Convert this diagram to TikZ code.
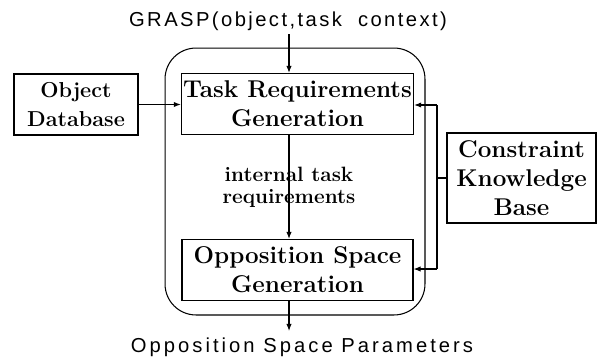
\documentclass[tikz,border=0pt]{standalone}
\usepackage{fontspec}
\newfontfamily\inlabelfont{Liberation Sans}[LetterSpace=12]
\newfontfamily\outlabelfont{Liberation Sans}[LetterSpace=15]
\usepackage{tikz}
\usetikzlibrary{positioning, calc, arrows.meta}
\tikzset{
  procbox/.style={rectangle, draw=black, semithick,
                  minimum width=4.62cm, minimum height=1.22cm,
                  align=center, inner sep=1pt,
                  font=\fontsize{13.8}{16.5}\selectfont\bfseries},
  srcbox/.style={rectangle, draw=black, semithick,
                 align=center, inner sep=1pt,
                 font=\fontsize{13.8}{16.5}\selectfont\bfseries},
  frame/.style={rectangle, draw=black, semithick, rounded corners=0.62cm,
                minimum width=5.2cm, minimum height=5.34cm},
  io/.style={inner sep=0pt},
  flow/.style={semithick, -{Latex[length=4pt,width=3pt]}},
}

\begin{document}
\begin{tikzpicture}[x=0.02cm, y=-0.02cm]
    \useasboundingbox (0,0) rectangle (598,356);

    % outer rounded frame
    \node[frame] (frame) at (295,181.5) {};

    % process boxes
    \node[procbox] (taskgen) at (297.5,104) {Task Requirements\\Generation};
    \node[procbox] (oppgen) at (297.5,270) {Opposition Space\\Generation};

    % knowledge sources
    \node[srcbox, minimum width=2.48cm, minimum height=1.22cm,
          font=\fontsize{12.3}{16}\selectfont\bfseries] (objdb) at (76,104.5) {Object\\Database};
    \node[srcbox, minimum width=2.98cm, minimum height=1.8cm] (ckb) at (521.5,178) {Constraint\\Knowledge\\Base};

    % inputs and outputs
    \node[io, font=\inlabelfont\fontsize{11.5}{13}\selectfont] (grasp) at (288,21) {GRASP(object,task~ context)};
    \node[io, font=\outlabelfont\fontsize{11.5}{13}\selectfont] (oparams) at (302,347) {Opposition Space Parameters};
    \coordinate (outend) at (289,331);

    \draw[flow] (289,34) -- (289,34 |- taskgen.north);
    \draw[flow] (objdb.east) -- (objdb.east -| taskgen.west);
    \draw[flow] (taskgen.south -| outend) -- (oppgen.north -| outend)
      node[midway, align=center, font=\fontsize{11.8}{12.5}\selectfont\bfseries] (intreq) {internal task\\requirements};
    \draw[flow] (oppgen.south -| outend) -- (outend);

    % constraint bus
    \coordinate (bustop) at (437,105);
    \coordinate (busbot) at (437,269);
    \draw[semithick] (bustop) -- (busbot);
    \draw[semithick] (ckb.west) -- (ckb.west -| bustop);
    \draw[flow] (bustop) -- (bustop -| taskgen.east);
    \draw[flow] (busbot) -- (busbot -| oppgen.east);
\end{tikzpicture}
\end{document}
